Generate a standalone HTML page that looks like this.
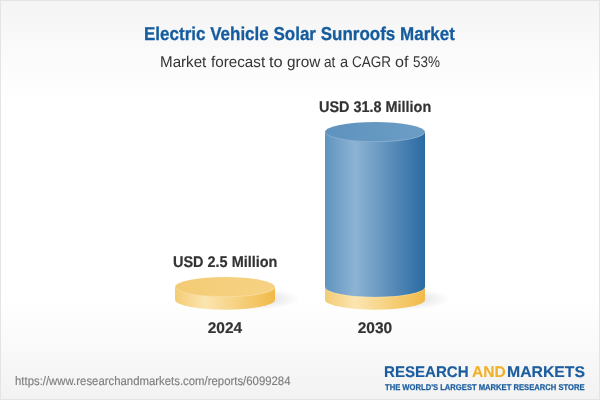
<!DOCTYPE html>
<html lang="en">
<head>
<meta charset="utf-8">
<title>Electric Vehicle Solar Sunroofs Market</title>
<style>
html,body{margin:0;padding:0;}
body{width:600px;height:400px;overflow:hidden;background:#fff;font-family:"Liberation Sans",sans-serif;}
#card{position:relative;width:600px;height:400px;overflow:hidden;
 background:linear-gradient(to bottom,#f4f4f4 0px,#fafafa 50px,#ffffff 100px,#ffffff 300px,#f9f9f9 350px,#f2f2f2 400px);}
#frame{position:absolute;left:0;top:0;width:598px;height:398px;border:1px solid #e4e4e4;}
#art{position:absolute;left:0;top:0;width:600px;height:400px;}
.g{position:absolute;left:0;top:0;width:0;height:0;margin:0;}
.t{position:absolute;display:block;white-space:nowrap;transform-origin:0 0;line-height:1;margin:0;text-rendering:geometricPrecision;}
#title{left:144.40px;top:24.70px;font-size:18.6px;color:#155c9e;font-weight:bold;-webkit-text-stroke:0.3px #155c9e;transform:scaleX(0.9142);}
#s1{left:160.31px;top:55.30px;font-size:15.5px;color:#353535;transform:scaleX(0.9779);}
#s2{left:211.30px;top:55.30px;font-size:15.5px;color:#353535;transform:scaleX(0.9828);}
#s3{left:268.88px;top:55.30px;font-size:15.5px;color:#353535;transform:scaleX(1.0600);}
#s4{left:286.60px;top:55.30px;font-size:15.5px;color:#353535;transform:scaleX(0.9900);}
#s5{left:324.18px;top:55.30px;font-size:15.5px;color:#353535;transform:scaleX(0.8800);}
#s6{left:340.20px;top:55.30px;font-size:15.5px;color:#353535;transform:scaleX(0.9500);}
#s7{left:352.40px;top:55.30px;font-size:15.5px;color:#353535;transform:scaleX(0.8725);}
#s8{left:395.00px;top:55.30px;font-size:15.5px;color:#353535;transform:scaleX(1.0400);}
#s9{left:412.85px;top:55.30px;font-size:15.5px;color:#353535;transform:scaleX(0.8679);}
#v1{left:173.31px;top:255.10px;font-size:15.5px;color:#333;font-weight:bold;-webkit-text-stroke:0.2px #333;transform:scaleX(0.9323);}
#v2{left:319.00px;top:99.80px;font-size:15.5px;color:#333;font-weight:bold;-webkit-text-stroke:0.2px #333;transform:scaleX(0.9306);}
#y1{left:207.70px;top:321.30px;font-size:15.5px;color:#333;font-weight:bold;-webkit-text-stroke:0.2px #333;}
#y2{left:357.70px;top:321.30px;font-size:15.5px;color:#333;font-weight:bold;-webkit-text-stroke:0.2px #333;}
#url{left:14.94px;top:374.80px;font-size:12.3px;color:#7d7d7d;-webkit-text-stroke:0.15px #7d7d7d;transform:scaleX(0.9245);}
#l1{left:384.00px;top:364.50px;font-size:15.5px;color:#1b5d9e;font-weight:bold;-webkit-text-stroke:0.15px #1b5d9e;transform:scaleX(0.9724);}
#l2{left:472.40px;top:364.50px;font-size:15.5px;color:#f0b12b;font-weight:bold;-webkit-text-stroke:0.15px #f0b12b;transform:scaleX(1.0058);}
#l3{left:507.40px;top:364.50px;font-size:15.5px;color:#1b5d9e;font-weight:bold;-webkit-text-stroke:0.15px #1b5d9e;transform:scaleX(1.0171);}
#tag{left:385.00px;top:382.60px;font-size:8.4px;color:#1b5d9e;font-weight:bold;-webkit-text-stroke:0.25px #1b5d9e;transform:scaleX(0.9105);}
</style>
</head>
<body>
<div id="card">
<svg id="art" width="600" height="400" viewBox="0 0 600 400">
 <defs>
  <linearGradient id="gb" x1="0" y1="0" x2="1" y2="0">
   <stop offset="0" stop-color="#5f94bf"/>
   <stop offset="0.3" stop-color="#8db3d3"/>
   <stop offset="1" stop-color="#2a6aa2"/>
  </linearGradient>
  <linearGradient id="gbt" x1="0" y1="0" x2="1" y2="0">
   <stop offset="0" stop-color="#5e93be"/>
   <stop offset="0.5" stop-color="#6598c1"/>
   <stop offset="1" stop-color="#6b9dc5"/>
  </linearGradient>
  <linearGradient id="gy" x1="0" y1="0" x2="1" y2="0">
   <stop offset="0" stop-color="#f3cc75"/>
   <stop offset="0.3" stop-color="#fbe5b0"/>
   <stop offset="1" stop-color="#f1ba48"/>
  </linearGradient>
  <linearGradient id="gyt" x1="0" y1="0" x2="1" y2="0">
   <stop offset="0" stop-color="#f3cb74"/>
   <stop offset="0.5" stop-color="#f5cf7d"/>
   <stop offset="1" stop-color="#f6d283"/>
  </linearGradient>
  <radialGradient id="sh" cx="0.5" cy="0.5" r="0.5">
   <stop offset="0" stop-color="#000" stop-opacity="0.19"/>
   <stop offset="0.6" stop-color="#000" stop-opacity="0.07"/>
   <stop offset="1" stop-color="#000" stop-opacity="0"/>
  </radialGradient>
 </defs>
 <ellipse cx="250" cy="299" rx="50" ry="11" fill="url(#sh)"/>
 <ellipse cx="400" cy="299" rx="50" ry="11" fill="url(#sh)"/>
 <path d="M175 287 L175 299.7 A50 10 0 0 0 275 299.7 L275 287 Z" fill="url(#gy)"/>
 <ellipse cx="225" cy="287" rx="50" ry="10" fill="url(#gyt)"/>
 <path d="M175.3 287 A49.7 9.7 0 0 0 274.7 287" fill="none" stroke="#fbe7b5" stroke-opacity="0.75" stroke-width="0.7"/>
 <path d="M325 287 L325 299.7 A50 10 0 0 0 425 299.7 L425 287 Z" fill="url(#gy)"/>
 <path d="M325 132 L325 287 A50 10 0 0 0 425 287 L425 132 Z" fill="url(#gb)"/>
 <path d="M325.2 287.3 A49.8 10 0 0 0 424.8 287.3" fill="none" stroke="#fbe7b5" stroke-opacity="0.55" stroke-width="0.7"/>
 <ellipse cx="375" cy="132" rx="50" ry="10" fill="url(#gbt)"/>
 <path d="M325.3 132 A49.7 9.7 0 0 0 424.7 132" fill="none" stroke="#a3c2dd" stroke-opacity="0.75" stroke-width="0.7"/>
</svg>

<div class="t" id="title">Electric Vehicle Solar Sunroofs Market</div>
<div class="g" id="sub"><span class="t" id="s1">Market</span> <span class="t" id="s2">forecast</span> <span class="t" id="s3">to</span> <span class="t" id="s4">grow</span> <span class="t" id="s5">at</span> <span class="t" id="s6">a</span> <span class="t" id="s7">CAGR</span> <span class="t" id="s8">of</span> <span class="t" id="s9">53%</span></div>
<div class="t" id="v1">USD 2.5 Million</div>
<div class="t" id="v2">USD 31.8 Million</div>
<div class="t" id="y1">2024</div>
<div class="t" id="y2">2030</div>
<div class="t" id="url">https://www.researchandmarkets.com/reports/6099284</div>
<div class="g" id="logo"><span class="t" id="l1">RESEARCH</span> <span class="t" id="l2">AND</span> <span class="t" id="l3">MARKETS</span></div>
<div class="t" id="tag">THE WORLD'S LARGEST MARKET RESEARCH STORE</div>
<div id="frame"></div>
</div>
</body>
</html>
